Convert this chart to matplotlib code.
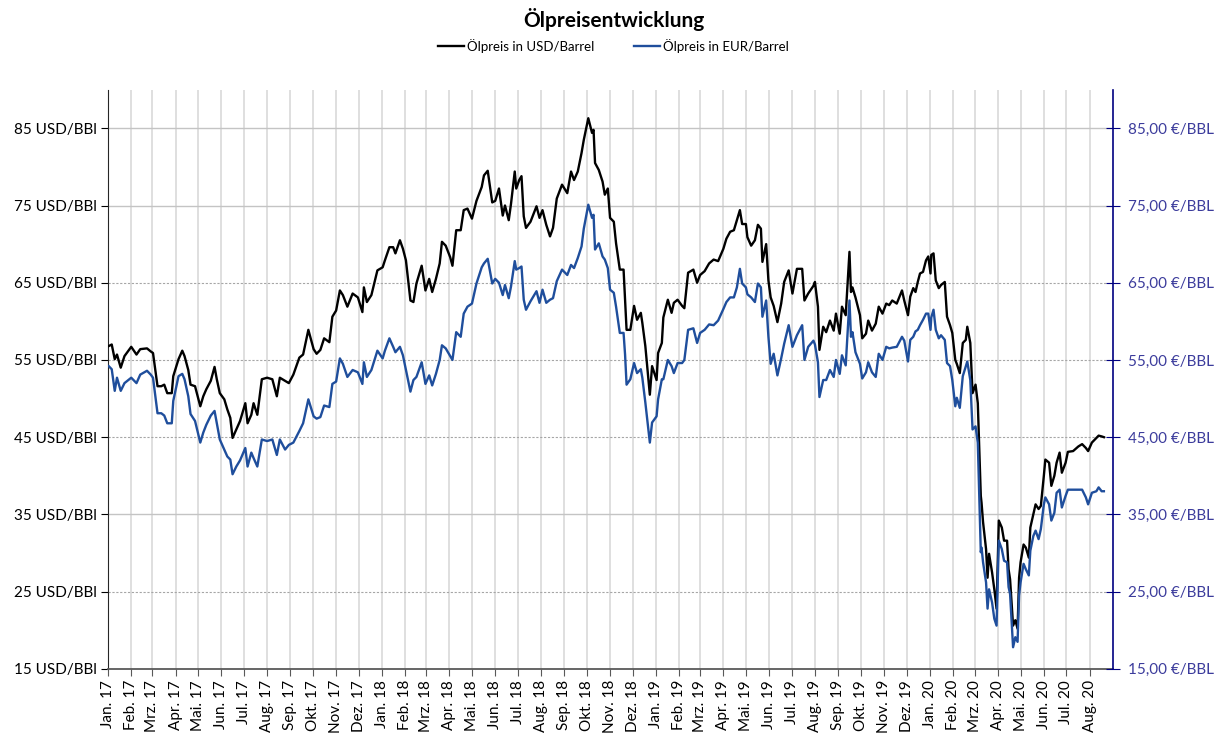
import pandas as pd
import matplotlib
matplotlib.use("Agg")
import matplotlib.pyplot as plt
from matplotlib.ticker import FixedLocator, FuncFormatter

plt.rcParams['font.family'] = ['Lato', 'DejaVu Sans']

# ---- data (approx. weekly points) ----
dates = [
    "2017-01-02", "2017-01-06", "2017-01-10", "2017-01-13", "2017-01-18", "2017-01-23",
    "2017-02-01", "2017-02-08", "2017-02-13", "2017-02-22", "2017-02-27",
    "2017-03-02", "2017-03-08", "2017-03-13", "2017-03-17", "2017-03-21", "2017-03-27", "2017-03-29",
    "2017-04-05", "2017-04-10", "2017-04-13", "2017-04-18", "2017-04-21", "2017-04-27",
    "2017-05-04", "2017-05-08", "2017-05-12", "2017-05-18", "2017-05-23", "2017-05-26", "2017-05-30",
    "2017-06-05", "2017-06-09", "2017-06-13", "2017-06-16", "2017-06-21", "2017-06-26",
    "2017-07-03", "2017-07-06", "2017-07-11", "2017-07-14", "2017-07-19", "2017-07-25",
    "2017-08-01", "2017-08-08", "2017-08-14", "2017-08-18", "2017-08-25", "2017-08-30",
    "2017-09-05", "2017-09-13", "2017-09-18", "2017-09-25",
    "2017-10-02", "2017-10-06", "2017-10-11", "2017-10-16", "2017-10-23", "2017-10-27",
    "2017-11-01", "2017-11-06", "2017-11-10", "2017-11-16", "2017-11-23", "2017-11-30",
    "2017-12-06", "2017-12-08", "2017-12-12", "2017-12-18", "2017-12-26",
    "2018-01-02", "2018-01-05", "2018-01-11", "2018-01-16", "2018-01-19", "2018-01-25", "2018-01-29",
    "2018-02-02", "2018-02-08", "2018-02-12", "2018-02-16", "2018-02-23", "2018-02-28",
    "2018-03-05", "2018-03-09", "2018-03-14", "2018-03-19", "2018-03-22", "2018-03-27",
    "2018-04-02", "2018-04-05", "2018-04-10", "2018-04-16", "2018-04-20", "2018-04-25",
    "2018-05-01", "2018-05-07", "2018-05-14", "2018-05-17", "2018-05-22", "2018-05-28",
    "2018-06-01", "2018-06-06", "2018-06-11", "2018-06-14", "2018-06-19", "2018-06-22", "2018-06-27", "2018-06-29",
    "2018-07-03", "2018-07-06", "2018-07-09", "2018-07-12", "2018-07-18", "2018-07-26", "2018-07-30",
    "2018-08-03", "2018-08-08", "2018-08-13", "2018-08-17", "2018-08-22", "2018-08-29",
    "2018-09-05", "2018-09-10", "2018-09-14", "2018-09-19", "2018-09-24", "2018-09-27",
    "2018-10-03", "2018-10-08", "2018-10-10", "2018-10-12", "2018-10-17", "2018-10-22", "2018-10-25", "2018-10-29",
    "2018-11-01", "2018-11-06", "2018-11-09", "2018-11-14", "2018-11-19", "2018-11-21", "2018-11-23", "2018-11-28",
    "2018-12-03", "2018-12-07", "2018-12-12", "2018-12-14", "2018-12-18", "2018-12-24", "2018-12-27",
    "2019-01-02", "2019-01-04", "2019-01-09", "2019-01-11", "2019-01-17", "2019-01-22", "2019-01-25", "2019-01-30",
    "2019-02-05", "2019-02-08", "2019-02-13", "2019-02-20", "2019-02-25",
    "2019-03-01", "2019-03-07", "2019-03-13", "2019-03-19", "2019-03-25",
    "2019-04-01", "2019-04-05", "2019-04-10", "2019-04-15", "2019-04-19", "2019-04-23", "2019-04-26",
    "2019-05-01", "2019-05-03", "2019-05-08", "2019-05-13", "2019-05-17", "2019-05-21", "2019-05-23", "2019-05-28", "2019-05-31",
    "2019-06-03", "2019-06-07", "2019-06-12", "2019-06-17", "2019-06-21", "2019-06-27",
    "2019-07-02", "2019-07-08", "2019-07-15", "2019-07-18", "2019-07-23", "2019-07-30",
    "2019-08-01", "2019-08-05", "2019-08-07", "2019-08-12", "2019-08-16", "2019-08-21", "2019-08-26", "2019-08-29",
    "2019-09-03", "2019-09-06", "2019-09-11", "2019-09-16", "2019-09-18", "2019-09-20", "2019-09-24", "2019-09-30",
    "2019-10-03", "2019-10-08", "2019-10-11", "2019-10-16", "2019-10-21", "2019-10-25", "2019-10-30",
    "2019-11-04", "2019-11-08", "2019-11-12", "2019-11-18", "2019-11-25", "2019-11-28",
    "2019-12-03", "2019-12-06", "2019-12-10", "2019-12-13", "2019-12-16", "2019-12-19", "2019-12-23", "2019-12-27", "2019-12-30",
    "2020-01-02", "2020-01-03", "2020-01-06", "2020-01-09", "2020-01-13", "2020-01-16", "2020-01-21", "2020-01-24", "2020-01-28", "2020-01-31",
    "2020-02-04", "2020-02-06", "2020-02-10", "2020-02-14", "2020-02-18", "2020-02-20", "2020-02-24", "2020-02-27",
    "2020-03-02", "2020-03-05", "2020-03-09", "2020-03-10", "2020-03-12", "2020-03-16", "2020-03-18", "2020-03-20", "2020-03-24", "2020-03-27", "2020-03-30",
    "2020-04-02", "2020-04-06", "2020-04-09", "2020-04-13", "2020-04-15", "2020-04-17", "2020-04-21", "2020-04-24", "2020-04-27", "2020-04-29",
    "2020-05-01", "2020-05-05", "2020-05-08", "2020-05-12", "2020-05-14", "2020-05-18", "2020-05-21", "2020-05-25", "2020-05-28",
    "2020-06-01", "2020-06-03", "2020-06-08", "2020-06-11", "2020-06-15", "2020-06-18", "2020-06-22", "2020-06-25", "2020-06-30",
    "2020-07-03", "2020-07-10", "2020-07-17", "2020-07-22", "2020-07-27", "2020-07-30",
    "2020-08-04", "2020-08-10", "2020-08-13", "2020-08-17", "2020-08-20",
]

usd = [
    56.8, 57.0, 55.1, 55.7, 54.0, 55.5,
    56.7, 55.7, 56.4, 56.5, 56.1,
    55.9, 51.6, 51.6, 51.8, 50.7, 50.7, 52.9,
    55.1, 56.2, 55.5, 53.7, 51.8, 51.6,
    49.0, 50.3, 51.2, 52.3, 54.1, 52.5, 50.7,
    49.9, 48.6, 47.5, 44.9, 46.0, 47.1,
    49.4, 46.8, 47.9, 49.4, 47.9, 52.5,
    52.7, 52.5, 50.3, 52.7, 52.3, 52.0,
    53.1, 55.3, 55.7, 58.9,
    56.4, 55.8, 56.3, 57.8, 57.3, 60.6,
    61.4, 64.0, 63.4, 61.9, 63.6, 63.1,
    61.2, 64.4, 62.5, 63.4, 66.6,
    67.0, 67.9, 69.6, 69.6, 68.8, 70.5, 69.4,
    67.9, 62.7, 62.5, 64.9, 67.2, 64.0,
    65.5, 63.8, 65.5, 67.5, 70.3, 69.8,
    68.3, 67.2, 71.8, 71.8, 74.4, 74.6,
    73.3, 75.6, 77.4, 78.9, 79.5, 75.4,
    75.6, 77.2, 73.7, 75.0, 73.1, 75.2, 79.4, 77.2,
    78.3, 78.8, 73.6, 72.1, 72.9, 74.9, 73.4,
    74.4, 72.5, 71.0, 72.1, 75.9, 77.7,
    76.6, 79.4, 78.3, 79.4, 81.8, 83.5,
    86.3, 84.4, 84.8, 80.5, 79.6, 78.1, 76.4, 77.2,
    73.4, 72.9, 70.1, 66.7, 66.7, 62.8, 58.9, 58.9,
    62.0, 60.2, 61.1, 59.8, 56.8, 50.5, 54.2,
    52.4, 55.9, 57.2, 60.5, 62.8, 61.1, 62.4, 62.8,
    62.0, 61.7, 66.3, 66.7, 65.0,
    66.0, 66.5, 67.5, 68.0, 67.8,
    69.4, 70.7, 71.6, 71.8, 73.1, 74.4, 72.6,
    72.6, 70.9, 69.8, 70.5, 72.5, 72.0, 67.7, 70.0, 65.3,
    63.1, 62.0, 59.9, 62.3, 65.1, 66.6,
    63.6, 66.8, 66.8, 62.7, 63.6, 64.6,
    65.1, 61.9, 56.3, 59.3, 58.6, 60.1, 58.8, 61.0,
    58.4, 61.9, 60.8, 69.0, 63.8, 64.4, 63.1, 60.8,
    57.8, 58.4, 60.1, 58.8, 59.7, 61.9, 61.0,
    62.3, 62.1, 62.7, 62.3, 64.0, 62.7,
    60.8, 63.2, 64.3, 63.8, 65.1, 66.2, 66.4, 67.9, 68.4,
    66.2, 68.6, 68.8, 65.3, 64.3, 64.7, 65.1, 60.6, 59.5, 58.5,
    55.0, 54.5, 53.3, 57.2, 57.6, 59.3, 57.2, 50.7,
    51.8, 49.4, 37.4, 36.5, 34.0, 30.5, 26.8, 29.9, 27.5, 25.3, 22.8,
    34.2, 33.3, 31.6, 31.6, 27.9, 26.6, 20.6, 21.3, 20.2, 26.8,
    28.8, 31.1, 30.7, 29.4, 33.3, 35.0, 36.3, 35.7, 36.1,
    40.0, 42.1, 41.7, 38.7, 40.0, 41.7, 43.0, 40.4, 41.7,
    43.1, 43.2, 43.8, 44.1, 43.6, 43.2,
    44.3, 44.9, 45.2, 45.1, 45.0,
]

eur = [
    54.2, 53.8, 51.0, 52.7, 51.0, 52.0,
    52.7, 52.0, 53.1, 53.6, 53.1,
    52.7, 48.1, 48.1, 47.8, 46.8, 46.8, 49.7,
    52.9, 53.2, 52.5, 50.3, 48.0, 47.1,
    44.3, 45.6, 46.6, 47.8, 48.4, 46.8, 44.7,
    43.4, 42.5, 42.1, 40.2, 41.2, 42.0,
    43.6, 41.2, 43.0, 42.3, 41.2, 44.7,
    44.5, 44.7, 42.7, 44.7, 43.4, 44.0,
    44.3, 45.8, 46.8, 49.9,
    47.7, 47.4, 47.6, 49.1, 48.9, 51.9,
    52.2, 55.2, 54.5, 52.8, 53.7, 53.4,
    51.9, 54.7, 52.8, 53.7, 56.2,
    55.2, 56.2, 57.8, 56.7, 56.0, 56.7, 55.6,
    53.7, 50.9, 52.4, 52.8, 54.7, 51.9,
    53.0, 51.7, 53.2, 55.0, 56.9, 56.5,
    55.5, 55.0, 58.6, 58.0, 61.0, 61.9,
    62.3, 64.9, 67.0, 67.5, 68.1, 64.9,
    65.5, 65.0, 63.4, 64.7, 63.0, 64.5, 67.8, 66.7,
    66.9, 67.1, 62.8, 61.5, 62.6, 63.9, 62.4,
    64.1, 62.4, 62.8, 63.0, 65.2, 66.7,
    66.0, 67.3, 66.9, 68.2, 69.7, 72.0,
    75.1, 73.4, 73.8, 69.3, 70.1, 68.4, 68.0, 66.9,
    64.1, 63.7, 61.9, 58.5, 58.5, 55.7, 51.8, 52.5,
    54.6, 53.3, 53.8, 52.7, 49.5, 44.3, 46.9,
    47.7, 49.9, 52.5, 52.5, 55.0, 54.2, 53.3, 54.6,
    54.6, 55.0, 58.9, 59.1, 57.2,
    58.5, 58.9, 59.6, 59.5, 60.1,
    61.6, 62.5, 63.1, 63.1, 64.4, 66.8, 64.9,
    64.4, 63.5, 63.1, 62.5, 64.9, 64.4, 60.6, 62.7, 58.0,
    54.5, 55.8, 53.0, 55.2, 57.1, 59.5,
    56.7, 58.2, 59.5, 55.0, 56.7, 57.5,
    57.0, 54.7, 50.2, 52.4, 52.4, 53.7, 52.8, 55.0,
    53.2, 55.6, 54.3, 62.7, 58.0, 58.6, 56.0, 54.5,
    52.6, 53.4, 54.7, 53.4, 52.8, 55.8, 55.0,
    56.7, 56.5, 56.6, 56.7, 58.0, 57.5,
    54.8, 57.6, 58.0, 58.7, 58.9, 59.5, 60.2, 61.0, 61.0,
    58.9, 60.5, 61.5, 58.9, 57.8, 58.2, 57.6, 54.6, 54.2, 52.4,
    49.0, 50.1, 48.8, 52.9, 54.2, 54.8, 52.4, 46.0,
    46.4, 44.3, 30.1, 30.7, 28.8, 26.2, 22.8, 25.3, 23.6, 21.5, 20.6,
    31.6, 30.5, 29.0, 28.8, 25.6, 24.7, 17.8, 19.1, 18.5, 24.5,
    26.2, 28.6, 27.9, 27.1, 30.3, 32.2, 32.9, 31.8, 33.1,
    36.3, 37.2, 36.3, 34.2, 35.2, 37.8, 38.2, 35.9, 37.4,
    38.2, 38.2, 38.2, 38.2, 37.2, 36.3,
    37.8, 38.0, 38.5, 38.0, 38.0,
]

month_names = ["Jan.", "Feb.", "Mrz.", "Apr.", "Mai.", "Jun.",
               "Jul.", "Aug.", "Sep.", "Okt.", "Nov.", "Dez."]
y_ticks = [15, 25, 35, 45, 55, 65, 75, 85]

x = pd.to_datetime(dates)
month_ticks = pd.date_range("2017-01-01", "2020-08-01", freq="MS")

fig = plt.figure(figsize=(12.27, 7.35), dpi=100)
ax = fig.add_axes([0.088, 0.090, 0.819, 0.788])
ax2 = ax.twinx()

# gridlines
for t in month_ticks:
    ax.axvline(t, color="#d9d9d9", lw=1.2, zorder=0)
grid_style = {85: "-", 75: "-", 65: "--", 55: "--", 45: "--", 35: "-", 25: "--"}
for v, ls in grid_style.items():
    if ls == "-":
        ax.axhline(v, color="#c4c4c4", lw=1.0, zorder=0)
    else:
        ax.axhline(v, color="#a6a6a6", lw=0.8, ls="--", dashes=(2, 1.5), zorder=0)

l1, = ax.plot(x, usd, color="black", lw=1.7, label="Ölpreis in USD/Barrel", zorder=3)
l2, = ax2.plot(x, eur, color="#1f4e9c", lw=1.7, label="Ölpreis in EUR/Barrel", zorder=3)

for a in (ax, ax2):
    a.set_ylim(15, 90)
    a.set_xlim(pd.Timestamp("2017-01-01"), pd.Timestamp("2020-09-01"))

ax.yaxis.set_major_locator(FixedLocator(y_ticks))
ax.yaxis.set_major_formatter(FuncFormatter(lambda v, p: f"{v:.0f} USD/BBl"))
ax2.yaxis.set_major_locator(FixedLocator(y_ticks))
ax2.yaxis.set_major_formatter(FuncFormatter(lambda v, p: f"{v:.2f}".replace(".", ",") + " €/BBL"))

ax.set_xticks(month_ticks)
ax.set_xticklabels([f"{month_names[d.month - 1]} {d.year % 100}" for d in month_ticks],
                   rotation=90, fontsize=11)
ax.tick_params(axis="x", length=5, color="#595959", pad=3)
ax.tick_params(axis="y", length=5, color="black", labelsize=11, pad=3)
ax2.tick_params(axis="y", direction="inout", length=10, color="#000080",
                labelcolor="#3c3c9c", labelsize=11, pad=6)

for s in ("top", "right"):
    ax.spines[s].set_visible(False)
ax.spines["left"].set_color("#262626")
ax.spines["bottom"].set_color("#595959")
ax.spines["bottom"].set_linewidth(1.3)
for s in ("top", "left", "bottom"):
    ax2.spines[s].set_visible(False)
ax2.spines["right"].set_color("#000080")
ax2.spines["right"].set_linewidth(1.2)

fig.text(0.5, 0.973, "Ölpreisentwicklung", ha="center", va="center",
         fontsize=15, fontweight="bold")
fig.legend(handles=[l1, l2], loc="center", bbox_to_anchor=(0.5, 0.938), ncol=2,
           frameon=False, fontsize=9.5, handlelength=2.0, columnspacing=3.0,
           handletextpad=0.2)

fig.savefig("out.png", dpi=100)
